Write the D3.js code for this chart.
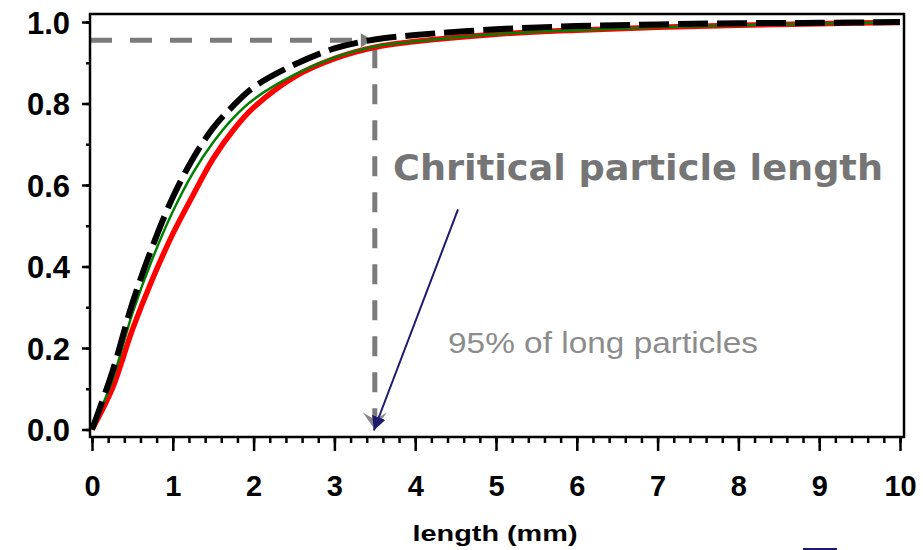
<!DOCTYPE html>
<html>
<head>
<meta charset="utf-8">
<script src="https://cdn.jsdelivr.net/npm/d3@7"></script>
<style>
  html, body { margin: 0; padding: 0; background: #fff; }
  svg { display: block; }
</style>
</head>
<body>
<svg id="chart" width="923" height="550"></svg>
<script>
// ---- data ----
const lengths = [0, 0.25, 0.5, 0.75, 1, 1.25, 1.5, 1.75, 2, 2.5, 3, 3.5, 4, 5, 6, 7, 8, 9, 10];
const blackDashed = [0, 0.14, 0.31, 0.45, 0.57, 0.665, 0.74, 0.795, 0.84, 0.895, 0.935, 0.957, 0.968, 0.982, 0.99, 0.994, 0.997, 0.998, 1.0];
const greenLine  = [0, 0.12, 0.285, 0.42, 0.535, 0.63, 0.705, 0.765, 0.81, 0.87, 0.913, 0.94, 0.952, 0.97, 0.98, 0.987, 0.992, 0.996, 0.999];
const redLine    = [0, 0.10, 0.245, 0.37, 0.48, 0.575, 0.665, 0.735, 0.79, 0.865, 0.91, 0.938, 0.952, 0.97, 0.98, 0.987, 0.992, 0.996, 0.999];
const xTickValues = [0, 1, 2, 3, 4, 5, 6, 7, 8, 9, 10];
const yTickValues = [0, 0.2, 0.4, 0.6, 0.8, 1.0];
const critLength = 3.5;
const critFraction = 0.955;
const arrowStart = [4.53, 0.54];  // data coords of blue arrow tail
const arrowEnd = [3.5, 0.0];      // data coords of blue arrow tip
const titleText = "Chritical particle length";
const noteText = "95% of long particles";
const xLabel = "length  (mm)";

// ---- layout ----
const svg = d3.select("#chart");
const x = d3.scaleLinear().domain([0, 10]).range([92, 900]);
const y = d3.scaleLinear().domain([0, 1]).range([429.5, 22]);
const frame = { left: 90, top: 14, right: 904, bottom: 437 };

const defs = svg.append("defs");
defs.append("marker").attr("id", "blueHead")
  .attr("viewBox", "0 0 10 10").attr("refX", 10).attr("refY", 5)
  .attr("markerWidth", 7).attr("markerHeight", 7).attr("markerUnits", "strokeWidth")
  .attr("orient", "auto")
  .append("path").attr("d", "M0,0 L10,5 L0,10 Z").attr("fill", "#1e1b6e");

// reference dashed lines (gray)
const gray = "#7b7b7b";
svg.append("line")
  .attr("x1", frame.left).attr("x2", x(critLength) - 6)
  .attr("y1", y(critFraction)).attr("y2", y(critFraction))
  .attr("stroke", gray).attr("stroke-width", 5).attr("stroke-dasharray", "22,18");
svg.append("line")
  .attr("x1", x(critLength)).attr("x2", x(critLength))
  .attr("y1", y(critFraction) + 8).attr("y2", y(0) - 4)
  .attr("stroke", gray).attr("stroke-width", 5).attr("stroke-dasharray", "20,16");
// gray arrowheads
const hx = x(critLength) - 2, hy = y(critFraction);
svg.append("path")
  .attr("d", `M${hx - 12},${hy - 7} L${hx},${hy} L${hx - 12},${hy + 7} Z`)
  .attr("fill", gray);
const bx = x(critLength), by = y(0);
svg.append("path")
  .attr("d", `M${bx - 12},${by - 17} L${bx},${by} L${bx + 12},${by - 17} L${bx},${by - 10} Z`)
  .attr("fill", "#8a8a8a");

// curves
const line = d3.line()
  .x((d, i) => x(lengths[i]))
  .y(d => y(d))
  .curve(d3.curveCatmullRom.alpha(0.5));

svg.append("path").datum(redLine).attr("d", line)
  .attr("fill", "none").attr("stroke", "#ff0000").attr("stroke-width", 5.5);
svg.append("path").datum(greenLine).attr("d", line)
  .attr("fill", "none").attr("stroke", "#008000").attr("stroke-width", 2.5);
svg.append("path").datum(blackDashed).attr("d", line)
  .attr("fill", "none").attr("stroke", "#000").attr("stroke-width", 6)
  .attr("stroke-dasharray", "30,9");

// frame
svg.append("rect")
  .attr("x", frame.left).attr("y", frame.top)
  .attr("width", frame.right - frame.left).attr("height", frame.bottom - frame.top)
  .attr("fill", "none").attr("stroke", "#000").attr("stroke-width", 2.5);

// x axis
const xAxisMinor = d3.axisBottom(x).tickValues(d3.range(0, 10.01, 0.2)).tickSize(6).tickFormat("");
const gxm = svg.append("g").attr("transform", `translate(0,${frame.bottom})`).call(xAxisMinor);
const xAxis = d3.axisBottom(x).tickValues(xTickValues).tickSize(14).tickPadding(24).tickFormat(d3.format("d"));
const gx = svg.append("g").attr("transform", `translate(0,${frame.bottom})`).call(xAxis);
[gx, gxm].forEach(g => {
  g.select(".domain").remove();
  g.selectAll(".tick line").attr("stroke", "#000").attr("stroke-width", 2.5);
});
gx.selectAll(".tick text")
  .attr("font-family", "Liberation Sans, Arial, sans-serif")
  .attr("font-weight", "bold").attr("font-size", 29).attr("fill", "#000")
  .attr("dy", "0.72em");

// y axis
const yAxisMinor = d3.axisLeft(y).tickValues(d3.range(0, 1.001, 0.1)).tickSize(4).tickFormat("");
const gym = svg.append("g").attr("transform", `translate(${frame.left},0)`).call(yAxisMinor);
const yAxis = d3.axisLeft(y).tickValues(yTickValues).tickSize(8).tickPadding(12).tickFormat(d3.format(".1f"));
const gy = svg.append("g").attr("transform", `translate(${frame.left},0)`).call(yAxis);
[gy, gym].forEach(g => {
  g.select(".domain").remove();
  g.selectAll(".tick line").attr("stroke", "#000").attr("stroke-width", 2.5);
});
gy.selectAll(".tick text")
  .attr("font-family", "Liberation Sans, Arial, sans-serif")
  .attr("font-weight", "bold").attr("font-size", 31).attr("fill", "#000")
  .attr("dy", "0.36em");

// x label
svg.append("text")
  .attr("x", 495).attr("y", 541)
  .attr("text-anchor", "middle")
  .attr("font-family", "Liberation Sans, Arial, sans-serif")
  .attr("font-weight", "bold").attr("font-size", 22)
  .attr("textLength", 165).attr("lengthAdjust", "spacingAndGlyphs")
  .text(xLabel);

// annotations
svg.append("text")
  .attr("x", 393).attr("y", 180)
  .attr("font-family", "DejaVu Sans, Verdana, sans-serif")
  .attr("font-weight", "bold").attr("font-size", 36).attr("fill", "#757575")
  .attr("textLength", 490).attr("lengthAdjust", "spacingAndGlyphs")
  .text(titleText);
svg.append("text")
  .attr("x", 448).attr("y", 353)
  .attr("font-family", "Liberation Sans, Arial, sans-serif")
  .attr("font-size", 29).attr("fill", "#8c8c8c")
  .attr("textLength", 310).attr("lengthAdjust", "spacingAndGlyphs")
  .text(noteText);

// blue arrow
svg.append("line")
  .attr("x1", x(arrowStart[0])).attr("y1", y(arrowStart[1]))
  .attr("x2", x(arrowEnd[0]) - 1).attr("y2", y(arrowEnd[1]) + 1)
  .attr("stroke", "#1e1b6e").attr("stroke-width", 2)
  .attr("marker-end", "url(#blueHead)");

// small navy mark at bottom edge
svg.append("rect").attr("x", 803).attr("y", 548).attr("width", 34).attr("height", 2).attr("fill", "#1e1b6e");
</script>
</body>
</html>
